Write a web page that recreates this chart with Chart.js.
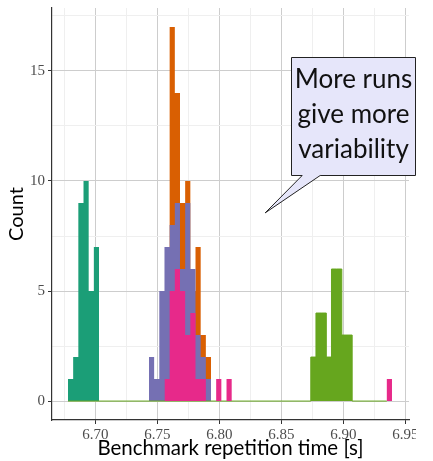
<!DOCTYPE html>
<html>
<head>
<meta charset="utf-8">
<script src="https://cdn.jsdelivr.net/npm/chart.js@4.4.1/dist/chart.umd.min.js"></script>
<style>
  html, body { margin: 0; padding: 0; background: #fff; }
  #wrap { width: 416px; height: 461px; overflow: hidden; }
</style>
</head>
<body>
<div id="wrap"><canvas id="myChart" width="416" height="461"></canvas></div>
<script>
// histogram bin width (seconds), shared by every series
var binWidth = 0.00417;

// left edge of each series' first bin
var tealStart = 6.678;
var orangeStart = 6.7433;
var purpleStart = 6.7433;
var pinkStart = 6.7558;
var limeStart = 6.8738;

// counts per bin
var tealCounts = [1, 2, 9, 10, 5, 7];
var orangeCounts = [0, 0, 1, 3, 17, 14, 9, 10, 5, 7, 3, 2];
var purpleCounts = [2, 1, 5, 7, 8, 9, 6, 9, 6, 3, 2, 1];
var pinkCounts = [1, 5, 6, 5, 3, 4, 1, 1, 0, 0, 1, 0, 1, 0, 0,
                  0, 0, 0, 0, 0, 0, 0, 0, 0, 0, 0, 0, 0, 0, 0,
                  0, 0, 0, 0, 0, 0, 0, 0, 0, 0, 0, 0, 0, 1];
var limeCounts = [2, 4, 4, 2, 6, 6, 3, 3];

// axis ticks
var xTicks = [6.70, 6.75, 6.80, 6.85, 6.90, 6.95];
var xTickLabels = ['6.70', '6.75', '6.80', '6.85', '6.90', '6.95'];
var xMinor = [6.675, 6.725, 6.775, 6.825, 6.875, 6.925];
var yTicks = [0, 5, 10, 15];
var yTickLabels = ['0', '5', '10', '15'];
var yMinor = [2.5, 7.5, 12.5, 17.5];

var calloutLines = ['More runs', 'give more', 'variability'];

// turn bin counts into step points: one point per left edge plus a closing edge
function steps(start, counts) {
    var pts = counts.map(function (c, i) {
        return { x: start + i * binWidth, y: c };
    });
    pts.push({ x: start + counts.length * binWidth, y: 0 });
    return pts;
}

function isMajor(list, v) {
    return list.some(function (t) { return Math.abs(t - v) < 1e-6; });
}

function labelFor(list, labels, v) {
    for (var i = 0; i < list.length; i++) {
        if (Math.abs(list[i] - v) < 1e-6) return labels[i];
    }
    return '';
}

function byValue(a, b) { return a - b; }

function histSet(label, pts, color, order) {
    return {
        label: label,
        data: pts,
        stepped: 'before',
        fill: 'origin',
        backgroundColor: color,
        borderColor: 'rgba(0,0,0,0)',
        borderWidth: 0,
        pointRadius: 0,
        order: order
    };
}

// the lime series runs a zero baseline across the whole range
var limePts = [{ x: tealStart, y: 0 }].concat(steps(limeStart, limeCounts));
limePts.push({ x: pinkStart + (pinkCounts.length - 1) * binWidth, y: 0 });

var calloutPlugin = {
    id: 'callout',
    afterDatasetsDraw: function (chart) {
        var ctx = chart.ctx;
        var tx = chart.scales.x.getPixelForValue(6.837);
        var ty = chart.scales.y.getPixelForValue(8.55);
        var left = Math.round(tx + 26) + 0.5, right = Math.round(tx + 150) + 0.5;
        var top = Math.round(ty - 156) + 0.5, bottom = Math.round(ty - 38) + 0.5;
        ctx.save();
        ctx.beginPath();
        ctx.moveTo(left, top);
        ctx.lineTo(right, top);
        ctx.lineTo(right, bottom);
        ctx.lineTo(tx + 55, bottom);
        ctx.lineTo(tx, ty);
        ctx.lineTo(tx + 37, bottom);
        ctx.lineTo(left, bottom);
        ctx.closePath();
        ctx.fillStyle = '#e6e6fa';
        ctx.fill();
        ctx.strokeStyle = '#222';
        ctx.lineWidth = 1;
        ctx.stroke();
        ctx.fillStyle = '#111';
        ctx.font = '26px Lato';
        ctx.textAlign = 'center';
        ctx.textBaseline = 'alphabetic';
        var cx = (left + right) / 2;
        calloutLines.forEach(function (line, i) {
            ctx.fillText(line, cx, top + 30 + i * 35);
        });
        ctx.restore();
    }
};

var ctx = document.getElementById('myChart').getContext('2d');
var myChart = new Chart(ctx, {
    type: 'line',
    data: {
        datasets: [
            histSet('teal', steps(tealStart, tealCounts), '#1b9e77', 5),
            histSet('orange', steps(orangeStart, orangeCounts), '#d95f02', 4),
            histSet('purple', steps(purpleStart, purpleCounts), '#7570b3', 3),
            histSet('pink', steps(pinkStart, pinkCounts), '#e7298a', 1),
            {
                label: 'lime',
                data: limePts,
                stepped: 'before',
                fill: 'origin',
                backgroundColor: '#66a61e',
                borderColor: '#66a61e',
                borderWidth: 1,
                pointRadius: 0,
                order: 2
            }
        ]
    },
    options: {
        responsive: false,
        animation: false,
        devicePixelRatio: 1,
        layout: { padding: { top: 8, right: 7, left: 0, bottom: 0 } },
        plugins: { legend: { display: false }, tooltip: { enabled: false } },
        scales: {
            x: {
                type: 'linear',
                min: 6.6651,
                max: 6.953,
                afterBuildTicks: function (s) {
                    s.ticks = xTicks.concat(xMinor).sort(byValue).map(function (v) { return { value: v }; });
                },
                afterFit: function (s) {
                    s.height = 41;
                    s.paddingLeft = 0;
                    s.paddingRight = 0;
                },
                ticks: {
                    autoSkip: false,
                    maxRotation: 0,
                    padding: 2,
                    color: '#4d4d4d',
                    font: { family: 'Liberation Serif', size: 15 },
                    callback: function (v) { return labelFor(xTicks, xTickLabels, v); }
                },
                grid: {
                    color: function (c) { return isMajor(xTicks, c.tick.value) ? '#cdcdcd' : '#efefef'; },
                    tickColor: function (c) { return isMajor(xTicks, c.tick.value) ? '#333' : 'rgba(0,0,0,0)'; },
                    tickLength: 4,
                    lineWidth: 1
                },
                border: { color: '#333', width: 1.2 },
                title: {
                    display: true,
                    text: 'Benchmark repetition time [s]',
                    color: '#000',
                    font: { family: 'Lato', size: 20.5 },
                    padding: { top: 0, bottom: 0 }
                }
            },
            y: {
                min: -0.86,
                max: 17.86,
                afterBuildTicks: function (s) {
                    s.ticks = yTicks.concat(yMinor).sort(byValue).map(function (v) { return { value: v }; });
                },
                afterFit: function (s) {
                    s.width = 52;
                    s.paddingTop = 0;
                    s.paddingBottom = 0;
                },
                ticks: {
                    autoSkip: false,
                    padding: 3,
                    color: '#4d4d4d',
                    font: { family: 'Liberation Serif', size: 15 },
                    callback: function (v) { return labelFor(yTicks, yTickLabels, v); }
                },
                grid: {
                    color: function (c) { return isMajor(yTicks, c.tick.value) ? '#cdcdcd' : '#efefef'; },
                    tickColor: function (c) { return isMajor(yTicks, c.tick.value) ? '#333' : 'rgba(0,0,0,0)'; },
                    tickLength: 4,
                    lineWidth: 1
                },
                border: { color: '#333', width: 1.2 },
                title: {
                    display: true,
                    text: 'Count',
                    color: '#000',
                    font: { family: 'Lato', size: 20 },
                    padding: { top: 5, bottom: 0 }
                }
            }
        }
    },
    plugins: [calloutPlugin]
});
</script>
</body>
</html>
